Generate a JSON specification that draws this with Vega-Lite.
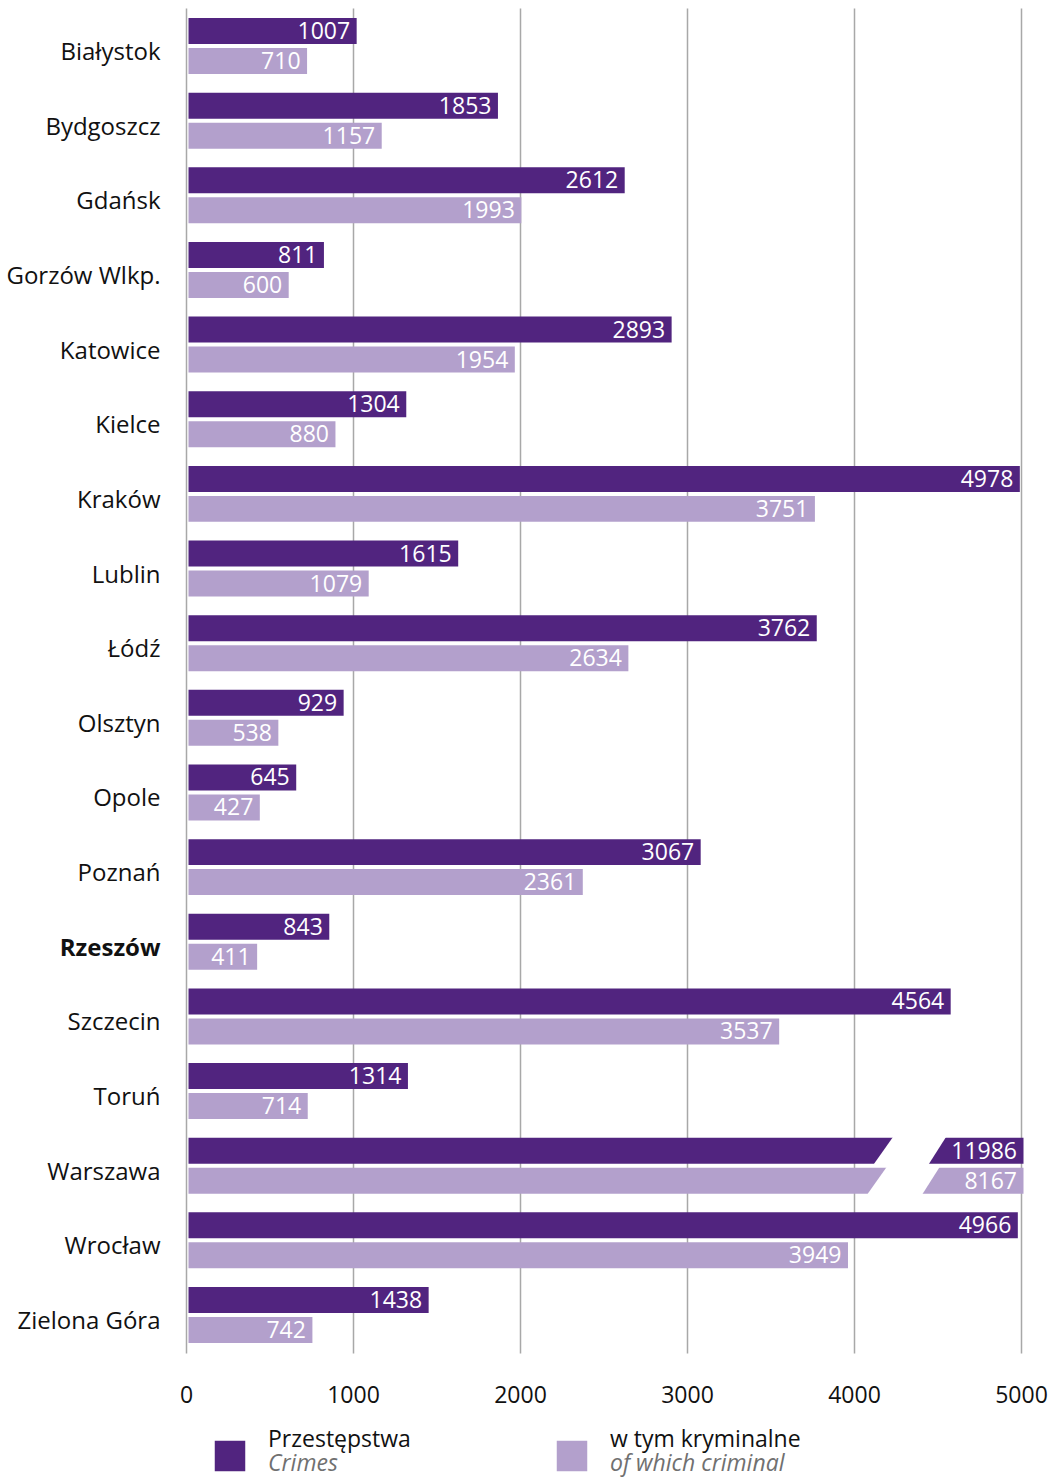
{
  "$schema": "https://vega.github.io/schema/vega-lite/v6.json",
  "background": "white",
  "padding": {"left": 0, "top": 8, "right": 5, "bottom": 4},
  "bounds": "flush",
  "spacing": 88,
  "config": {"view": {"stroke": null}, "font": "Open Sans"},
  "datasets": {
    "bars": [
      {"city": "Białystok", "series": "Przestępstwa", "value": 1007},
      {"city": "Białystok", "series": "w tym kryminalne", "value": 710},
      {"city": "Bydgoszcz", "series": "Przestępstwa", "value": 1853},
      {"city": "Bydgoszcz", "series": "w tym kryminalne", "value": 1157},
      {"city": "Gdańsk", "series": "Przestępstwa", "value": 2612},
      {"city": "Gdańsk", "series": "w tym kryminalne", "value": 1993},
      {"city": "Gorzów Wlkp.", "series": "Przestępstwa", "value": 811},
      {"city": "Gorzów Wlkp.", "series": "w tym kryminalne", "value": 600},
      {"city": "Katowice", "series": "Przestępstwa", "value": 2893},
      {"city": "Katowice", "series": "w tym kryminalne", "value": 1954},
      {"city": "Kielce", "series": "Przestępstwa", "value": 1304},
      {"city": "Kielce", "series": "w tym kryminalne", "value": 880},
      {"city": "Kraków", "series": "Przestępstwa", "value": 4978},
      {"city": "Kraków", "series": "w tym kryminalne", "value": 3751},
      {"city": "Lublin", "series": "Przestępstwa", "value": 1615},
      {"city": "Lublin", "series": "w tym kryminalne", "value": 1079},
      {"city": "Łódź", "series": "Przestępstwa", "value": 3762},
      {"city": "Łódź", "series": "w tym kryminalne", "value": 2634},
      {"city": "Olsztyn", "series": "Przestępstwa", "value": 929},
      {"city": "Olsztyn", "series": "w tym kryminalne", "value": 538},
      {"city": "Opole", "series": "Przestępstwa", "value": 645},
      {"city": "Opole", "series": "w tym kryminalne", "value": 427},
      {"city": "Poznań", "series": "Przestępstwa", "value": 3067},
      {"city": "Poznań", "series": "w tym kryminalne", "value": 2361},
      {"city": "Rzeszów", "series": "Przestępstwa", "value": 843},
      {"city": "Rzeszów", "series": "w tym kryminalne", "value": 411},
      {"city": "Szczecin", "series": "Przestępstwa", "value": 4564},
      {"city": "Szczecin", "series": "w tym kryminalne", "value": 3537},
      {"city": "Toruń", "series": "Przestępstwa", "value": 1314},
      {"city": "Toruń", "series": "w tym kryminalne", "value": 714},
      {"city": "Warszawa", "series": "Przestępstwa", "value": 11986},
      {"city": "Warszawa", "series": "w tym kryminalne", "value": 8167},
      {"city": "Wrocław", "series": "Przestępstwa", "value": 4966},
      {"city": "Wrocław", "series": "w tym kryminalne", "value": 3949},
      {"city": "Zielona Góra", "series": "Przestępstwa", "value": 1438},
      {"city": "Zielona Góra", "series": "w tym kryminalne", "value": 742}
    ],
    "breaks": [
      {"city": "Warszawa", "series": "Przestępstwa", "value": 4337},
      {"city": "Warszawa", "series": "w tym kryminalne", "value": 4299}
    ],
    "legend": [
      {"series": "Przestępstwa", "en": "Crimes"},
      {"series": "w tym kryminalne", "en": "of which criminal"}
    ]
  },
  "vconcat": [
    {
      "width": 835,
      "height": 1345,
      "encoding": {
        "y": {
          "field": "city", "type": "nominal", "sort": null,
          "scale": {"paddingInner": 0.25, "paddingOuter": 0.134},
          "axis": {
            "title": null, "ticks": false, "domain": false,
            "labelPadding": 26, "labelFontSize": 24, "labelColor": "#111111",
            "labelOffset": 7, "minExtent": 186, "maxExtent": 186,
            "labelFontWeight": {"condition": {"test": "datum.value === 'Rzeszów'", "value": "bold"}, "value": "normal"}
          }
        },
        "yOffset": {
          "field": "series", "type": "nominal",
          "scale": {"domain": ["Przestępstwa", "w tym kryminalne"], "paddingInner": 0.133, "paddingOuter": 0}
        },
        "x": {
          "field": "value", "type": "quantitative",
          "scale": {"domain": [0, 5000], "clamp": true, "nice": false},
          "axis": {
            "title": null, "values": [0, 1000, 2000, 3000, 4000, 5000], "format": "d",
            "ticks": false, "domain": false, "grid": true,
            "gridColor": "#a8a8a8", "gridWidth": 1.5,
            "labelPadding": 31, "labelFontSize": 23, "labelColor": "#111111",
            "labelFlush": false
          }
        }
      },
      "layer": [
        {
          "data": {"name": "bars"},
          "mark": {"type": "bar", "xOffset": 2.5, "x2Offset": 2.5},
          "encoding": {
            "color": {
              "field": "series", "type": "nominal",
              "scale": {"domain": ["Przestępstwa", "w tym kryminalne"], "range": ["#51247f", "#b3a0cc"]},
              "legend": null
            }
          }
        },
        {
          "data": {"name": "breaks"},
          "mark": {
            "type": "point", "filled": true, "opacity": 1, "color": "white", "strokeWidth": 0,
            "size": 5184,
            "shape": "M -0.475 -0.389 L 0.997 -0.389 L 0.503 0.389 L -1.025 0.389 Z"
          },
          "encoding": {}
        },
        {
          "data": {"name": "bars"},
          "mark": {"type": "text", "align": "right", "baseline": "middle", "dx": -4, "dy": 1, "fontSize": 23, "color": "white"},
          "encoding": {"text": {"field": "value", "type": "nominal"}}
        }
      ]
    },
    {
      "width": 835,
      "height": 30,
      "data": {"name": "legend"},
      "encoding": {
        "x": {"field": "series", "type": "nominal", "scale": {"type": "point", "range": [44, 386], "padding": 0}, "axis": null}
      },
      "layer": [
        {
          "mark": {"type": "point", "shape": "square", "filled": true, "opacity": 1, "size": 930},
          "encoding": {
            "color": {"field": "series", "type": "nominal", "legend": null}
          }
        },
        {
          "mark": {"type": "text", "align": "left", "baseline": "alphabetic", "dx": 38, "dy": -9.5, "fontSize": 23, "color": "#111111"},
          "encoding": {"text": {"field": "series"}}
        },
        {
          "mark": {"type": "text", "align": "left", "baseline": "alphabetic", "dx": 38, "dy": 15, "fontSize": 23, "fontStyle": "italic", "color": "#707070"},
          "encoding": {"text": {"field": "en"}}
        }
      ]
    }
  ]
}
